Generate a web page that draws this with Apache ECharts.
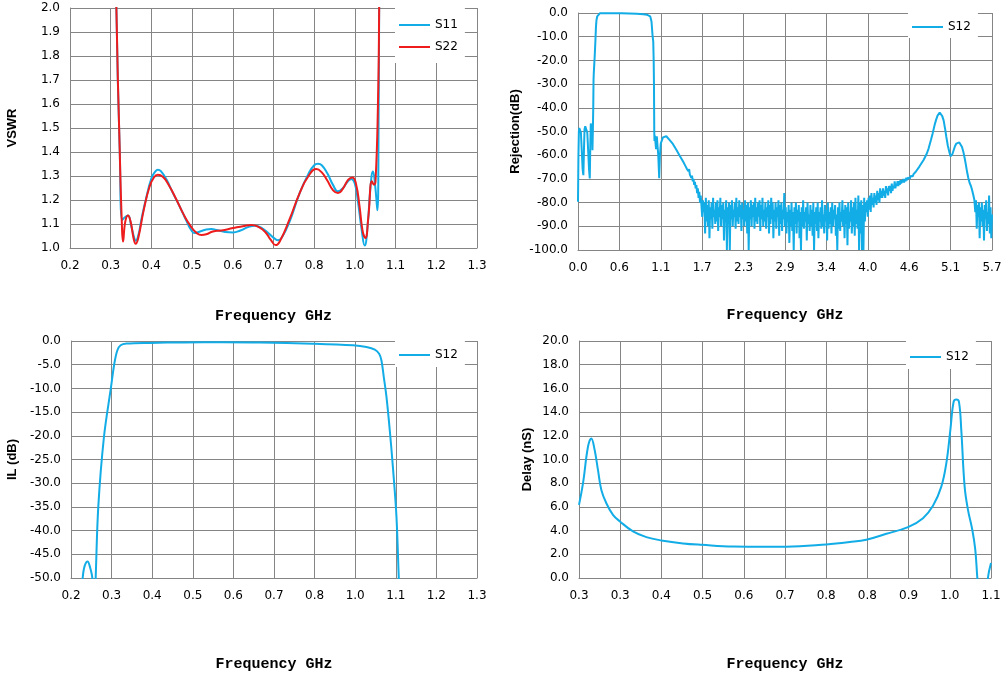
<!DOCTYPE html>
<html>
<head>
<meta charset="utf-8">
<title>Filter S-parameters</title>
<script src="https://cdn.jsdelivr.net/npm/echarts@6.0.0/dist/echarts.min.js"></script>
<style>
  html, body { margin: 0; padding: 0; background: #fff; }
  #main { width: 1008px; height: 684px; }
</style>
</head>
<body>
<div id="main"></div>
<script>
// VSWR  [GHz, ratio]
var vswrS11 = [[0.318,2.6],[0.3225,2.0],[0.3313,1.41],[0.3384,1.117],[0.345,1.128],[0.353,1.135],[0.362,1.09],[0.370,1.04],[0.3735,1.03],[0.38,1.05],[0.39,1.13],[0.40,1.2],[0.415,1.29],[0.425,1.318],[0.4324,1.326],[0.44,1.32],[0.455,1.285],[0.47,1.235],[0.4897,1.173],[0.51,1.105],[0.52,1.075],[0.5293,1.062],[0.545,1.07],[0.56,1.077],[0.5734,1.079],[0.59,1.074],[0.61,1.067],[0.6305,1.065],[0.65,1.073],[0.67,1.087],[0.6878,1.093],[0.705,1.085],[0.725,1.06],[0.74,1.04],[0.7493,1.032],[0.76,1.045],[0.78,1.11],[0.8066,1.229],[0.83,1.31],[0.845,1.345],[0.855,1.351],[0.865,1.345],[0.88,1.31],[0.895,1.262],[0.9078,1.236],[0.92,1.248],[0.935,1.28],[0.9432,1.288],[0.952,1.27],[0.96,1.2],[0.97,1.08],[0.9783,1.01],[0.986,1.09],[0.993,1.24],[1.0002,1.319],[1.006,1.26],[1.0118,1.157],[1.0153,1.6],[1.0166,2.0],[1.019,2.6]];
var vswrS22 = [[0.318,2.6],[0.3225,2.0],[0.3313,1.41],[0.337,1.1],[0.340,1.027],[0.346,1.11],[0.353,1.135],[0.36,1.11],[0.368,1.04],[0.3735,1.018],[0.38,1.04],[0.395,1.16],[0.41,1.255],[0.422,1.295],[0.432,1.305],[0.445,1.297],[0.46,1.265],[0.48,1.205],[0.50,1.14],[0.52,1.088],[0.535,1.062],[0.547,1.054],[0.56,1.057],[0.5777,1.069],[0.60,1.073],[0.6305,1.083],[0.66,1.092],[0.6791,1.096],[0.695,1.09],[0.715,1.068],[0.73,1.035],[0.7433,1.012],[0.755,1.03],[0.78,1.12],[0.8066,1.229],[0.83,1.3],[0.8507,1.329],[0.865,1.315],[0.88,1.28],[0.895,1.24],[0.9078,1.229],[0.92,1.245],[0.935,1.285],[0.9458,1.294],[0.955,1.27],[0.965,1.17],[0.973,1.07],[0.9802,1.042],[0.988,1.13],[0.9976,1.278],[1.003,1.264],[1.007,1.278],[1.0134,1.6],[1.0166,2.0],[1.019,2.6]];

// wide sweep rejection  [GHz, dB]
var rejPassband = [[0.000,-79.6],[0.006,-60],[0.012,-50],[0.018,-48.5],[0.030,-48.3],[0.040,-50.5],[0.052,-58],[0.064,-66],[0.074,-68.4],[0.082,-58],[0.090,-49],[0.100,-47.8],[0.116,-47.3],[0.128,-50.5],[0.140,-58],[0.152,-66],[0.162,-69.8],[0.170,-55],[0.176,-46.6],[0.190,-46.3],[0.196,-52],[0.199,-57.9],[0.205,-49],[0.210,-40],[0.214,-28],[0.217,-25.6],[0.226,-24.9],[0.232,-17],[0.240,-11.5],[0.247,-6],[0.254,-3.1],[0.265,-1.4],[0.277,-0.6],[0.300,-0.15],[0.324,0],[0.600,-0.1],[0.809,-0.3],[0.900,-0.5],[0.948,-0.7],[0.975,-1.0],[0.994,-1.4],[1.005,-2.2],[1.012,-3.6],[1.018,-6],[1.026,-9.4],[1.036,-12],[1.042,-20],[1.046,-30],[1.050,-50],[1.053,-54],[1.058,-51.7],[1.065,-51.5],[1.075,-57.5],[1.085,-52],[1.095,-56],[1.105,-60],[1.118,-69.7],[1.128,-60],[1.140,-55],[1.170,-52.5],[1.216,-52],[1.260,-53.5],[1.300,-55],[1.358,-57.9],[1.400,-60.2],[1.449,-62.8],[1.46,-63.5],[1.47,-62.8],[1.48,-64.6],[1.49,-63.9],[1.50,-65.8],[1.51,-65],[1.52,-66.8],[1.53,-65.9],[1.54,-68.2],[1.55,-67.5],[1.56,-69.5],[1.57,-68.6],[1.58,-71],[1.59,-70],[1.60,-72.5],[1.61,-71.3],[1.62,-74],[1.63,-72.6],[1.64,-76],[1.65,-74],[1.66,-78],[1.67,-75.5],[1.68,-80],[1.69,-77]];
var rejFloor = [
  [1.70,-77],[1.71,-86],[1.72,-79],[1.73,-84],[1.74,-80],[1.75,-93],[1.76,-78],[1.77,-88],[1.78,-81],[1.79,-90],
  [1.80,-79],[1.81,-95],[1.82,-82],[1.83,-87],[1.84,-80],[1.85,-91],[1.86,-78],[1.87,-86],[1.88,-83],[1.89,-89],
  [1.90,-80],[1.91,-88],[1.92,-79],[1.93,-92],[1.94,-82],[1.95,-86],[1.96,-78],[1.97,-90],[1.98,-81],[1.99,-87],
  [2.00,-80],[2.01,-96],[2.02,-83],[2.03,-88],[2.04,-79],[2.05,-100],[2.06,-82],[2.07,-89],[2.08,-80],[2.09,-100],
  [2.10,-81],[2.11,-87],[2.12,-79],[2.13,-90],[2.14,-83],[2.15,-86],[2.16,-80],[2.17,-91],[2.18,-78],[2.19,-88],
  [2.20,-82],[2.21,-89],[2.22,-79],[2.23,-86],[2.24,-81],[2.25,-92],[2.26,-80],[2.27,-87],[2.28,-83],[2.29,-90],
  [2.30,-79],[2.31,-88],[2.32,-81],[2.33,-93],[2.34,-80],[2.35,-100],[2.36,-82],[2.37,-87],[2.38,-79],[2.39,-90],
  [2.40,-81],[2.41,-86],[2.42,-80],[2.43,-91],[2.44,-78],[2.45,-88],[2.46,-82],[2.47,-89],[2.48,-80],[2.49,-86],
  [2.50,-79],[2.51,-92],[2.52,-81],[2.53,-87],[2.54,-78],[2.55,-90],[2.56,-83],[2.57,-88],[2.58,-80],[2.59,-91],
  [2.60,-82],[2.61,-86],[2.62,-79],[2.63,-93],[2.64,-81],[2.65,-89],[2.66,-78],[2.67,-87],[2.68,-80],[2.69,-95],
  [2.70,-83],[2.71,-88],[2.72,-80],[2.73,-91],[2.74,-82],[2.75,-86],[2.76,-79],[2.77,-94],[2.78,-81],[2.79,-89],
  [2.80,-80],[2.81,-92],[2.82,-83],[2.83,-87],[2.84,-76],[2.85,-90],[2.86,-82],[2.87,-93],[2.88,-84],[2.89,-88],
  [2.90,-81],[2.91,-97],[2.92,-83],[2.93,-90],[2.94,-80],[2.95,-92],[2.96,-84],[2.97,-100],[2.98,-82],[2.99,-89],
  [3.00,-80],[3.01,-93],[3.02,-83],[3.03,-88],[3.04,-81],[3.05,-95],[3.06,-84],[3.07,-100],[3.08,-82],[3.09,-90],
  [3.10,-79],[3.11,-91],[3.12,-84],[3.13,-88],[3.14,-82],[3.15,-96],[3.16,-80],[3.17,-89],[3.18,-85],[3.19,-92],
  [3.20,-81],[3.21,-90],[3.22,-83],[3.23,-94],[3.24,-80],[3.25,-100],[3.26,-84],[3.27,-89],[3.28,-82],[3.29,-92],
  [3.30,-80],[3.31,-95],[3.32,-84],[3.33,-88],[3.34,-82],[3.35,-91],[3.36,-79],[3.37,-90],[3.38,-85],[3.39,-93],
  [3.40,-81],[3.41,-88],[3.42,-83],[3.43,-96],[3.44,-80],[3.45,-91],[3.46,-84],[3.47,-89],[3.48,-82],[3.49,-93],
  [3.50,-80],[3.51,-90],[3.52,-83],[3.53,-87],[3.54,-81],[3.55,-94],[3.56,-85],[3.57,-100],[3.58,-82],[3.59,-91],
  [3.60,-80],[3.61,-92],[3.62,-84],[3.63,-88],[3.64,-79],[3.65,-90],[3.66,-83],[3.67,-95],[3.68,-81],[3.69,-89],
  [3.70,-82],[3.71,-98],[3.72,-80],[3.73,-91],[3.74,-84],[3.75,-88],[3.76,-79],[3.77,-93],[3.78,-82],[3.79,-90],
  [3.80,-80],[3.81,-94],[3.82,-78],[3.83,-89],[3.84,-83],[3.85,-91],[3.86,-77],[3.87,-100],[3.88,-80],[3.89,-93],
  [3.90,-79],[3.91,-100],[3.92,-81],[3.93,-100],[3.94,-78],[3.95,-88],[3.96,-80]];
var rejRise = [
  [3.97,-84],[3.98,-79],[3.99,-86],
  [4.00,-78],[4.01,-83],[4.02,-77],[4.03,-84],[4.04,-76],[4.05,-81],[4.06,-78],[4.07,-82],[4.08,-76],[4.09,-80],
  [4.10,-77],[4.11,-81],[4.12,-75],[4.13,-79],[4.14,-76],[4.15,-80],[4.16,-74],[4.17,-78],[4.18,-75],[4.19,-78],
  [4.20,-74],[4.21,-77],[4.22,-75],[4.23,-78],[4.24,-73],[4.25,-76],[4.26,-74],[4.27,-77],[4.28,-73],[4.29,-75],
  [4.30,-73],[4.31,-76],[4.32,-72],[4.33,-75],[4.34,-73],[4.35,-74],[4.36,-71],[4.37,-74],[4.38,-72],[4.39,-73],
  [4.40,-71],[4.41,-73],[4.42,-71],[4.43,-72.5],[4.44,-70.5],[4.45,-72],[4.46,-70.5],[4.47,-71.5],[4.48,-70],[4.49,-71.5],
  [4.50,-70],[4.51,-71],[4.52,-69.5],[4.53,-70.5],[4.54,-69.5],[4.55,-70],[4.56,-69],[4.57,-69.8],[4.58,-68.8],[4.59,-69.3],
  [4.60,-68.6],[4.61,-68.9],[4.62,-68],[4.63,-68.2],[4.64,-67.4],[4.65,-67]];
var rejSpurs = [[4.666,-66.2],[4.70,-64.8],[4.758,-62],[4.80,-59.5],[4.827,-57.2],[4.86,-53.5],[4.882,-50.9],[4.91,-47.3],[4.928,-45.3],[4.950,-43.3],[4.965,-42.5],[4.980,-42.0],[4.997,-42.2],[5.015,-43.5],[5.034,-45.3],[5.055,-49],[5.071,-52.3],[5.092,-56],[5.112,-58.5],[5.128,-60.5],[5.140,-60.9],[5.155,-59.5],[5.172,-57.9],[5.19,-56.2],[5.209,-55.1],[5.23,-54.6],[5.25,-54.6],[5.27,-55.3],[5.287,-56.5],[5.305,-58.5],[5.324,-61.3],[5.340,-64],[5.356,-66.9],[5.373,-69.5],[5.393,-71.8],[5.41,-73],[5.425,-74.6],[5.44,-76.5],[5.457,-78.8]];
var rejTail = [[5.47,-84],[5.48,-79],[5.49,-91],[5.50,-81],[5.51,-86],[5.52,-80],[5.53,-95],[5.54,-82],[5.55,-88],[5.56,-80],[5.57,-90],[5.58,-83],[5.59,-96],[5.60,-81],[5.61,-87],[5.62,-79],[5.63,-92],[5.64,-84],[5.65,-89],[5.66,-77],[5.67,-93],[5.68,-82],[5.69,-95],[5.70,-85]];

// insertion loss  [GHz, dB]
var ilS12 = [[0.226,-56],[0.2309,-50],[0.236,-47.5],[0.2441,-46.5],[0.250,-47.6],[0.2564,-50],[0.2605,-60],[0.2653,-50],[0.2723,-34.9],[0.2873,-20.2],[0.3058,-9.8],[0.3147,-4.8],[0.3226,-2.0],[0.3314,-0.9],[0.3473,-0.55],[0.409,-0.4],[0.5,-0.3],[0.6,-0.25],[0.7,-0.3],[0.8412,-0.56],[0.947,-0.91],[0.9823,-1.26],[1.0044,-1.8],[1.0159,-2.7],[1.022,-4.1],[1.0282,-7.6],[1.0353,-11.8],[1.044,-18.8],[1.0529,-27.2],[1.0617,-37],[1.0679,-50],[1.072,-58]];

// group delay  [GHz, ns]
var delayS12 = [[0.25,6.17],[0.2583,8.0],[0.2686,11.1],[0.2754,11.78],[0.2823,10.8],[0.2892,9.1],[0.2961,7.43],[0.3064,6.31],[0.3201,5.33],[0.3346,4.77],[0.3614,3.93],[0.3889,3.45],[0.4199,3.17],[0.4646,2.92],[0.5038,2.80],[0.5677,2.66],[0.6365,2.64],[0.6777,2.64],[0.7603,2.83],[0.8084,3.03],[0.8428,3.23],[0.8841,3.73],[0.9288,4.29],[0.9597,5.05],[0.9803,6.09],[0.9975,7.71],[1.0078,9.68],[1.0161,12.48],[1.0229,14.87],[1.0284,15.06],[1.0339,14.87],[1.0387,12.48],[1.0456,7.71],[1.0525,5.75],[1.0614,4.07],[1.0676,2.38],[1.0718,0],[1.078,-3],[1.088,-3],[1.0936,0],[1.1,1.26]];

var blue = '#12ACE6';
var red = '#EE1C1C';
var gridColor = '#858585';

function fixed1(v) { return v.toFixed(1); }

function xAxis(gi, min, max, step, gap) {
    return {
        type: 'value', gridIndex: gi, min: min, max: max, interval: step,
        name: 'Frequency GHz', nameLocation: 'middle', nameGap: gap, nameMoveOverlap: false,
        nameTextStyle: { fontFamily: 'Liberation Mono', fontWeight: 'bold', fontSize: 15, color: '#000' },
        axisLine: { show: true, onZero: false, lineStyle: { color: gridColor, width: 1 } },
        axisTick: { show: false },
        axisLabel: { margin: 12, color: '#000', fontFamily: 'DejaVu Sans', fontSize: 12, formatter: fixed1 },
        splitLine: { show: true, lineStyle: { color: gridColor, width: 1 } }
    };
}

function yAxis(gi, name, min, max, step, gap) {
    return {
        type: 'value', gridIndex: gi, min: min, max: max, interval: step,
        name: name, nameLocation: 'middle', nameGap: gap, nameMoveOverlap: false,
        nameTextStyle: { fontFamily: 'Liberation Sans', fontWeight: 'bold', fontSize: 13, color: '#000' },
        axisLine: { show: true, onZero: false, lineStyle: { color: gridColor, width: 1 } },
        axisTick: { show: false },
        axisLabel: { margin: 10, color: '#000', fontFamily: 'DejaVu Sans', fontSize: 12, formatter: fixed1 },
        splitLine: { show: true, lineStyle: { color: gridColor, width: 1 } }
    };
}

function line(name, data, idx, color, smooth) {
    return {
        name: name, type: 'line', xAxisIndex: idx, yAxisIndex: idx, data: data,
        symbol: 'none', showSymbol: false, smooth: smooth, clip: true,
        lineStyle: { color: color, width: 2 }, itemStyle: { color: color }
    };
}

function legend(names, left, top, pad) {
    return {
        data: names, left: left, top: top, orient: 'vertical', selectedMode: false,
        icon: 'rect', itemWidth: 31, itemHeight: 2, itemGap: 10, padding: pad,
        backgroundColor: '#fff',
        textStyle: { fontFamily: 'DejaVu Sans', fontSize: 12, color: '#000' }
    };
}

var myChart = echarts.init(document.getElementById('main'));
myChart.setOption({
    animation: false,
    backgroundColor: '#fff',
    grid: [
        { left: 70, top: 8, width: 407, height: 240, outerBoundsMode: 'none' },
        { left: 578, top: 13, width: 414, height: 237, outerBoundsMode: 'none' },
        { left: 71, top: 341, width: 406, height: 237, outerBoundsMode: 'none' },
        { left: 579, top: 341, width: 412, height: 237, outerBoundsMode: 'none' }
    ],
    legend: [
        legend(['S11', 'S22'], 395, 8, [11, 7, 10, 4]),
        legend(['S12'], 908, 13, [8, 7, 5, 4]),
        legend(['S12'], 395, 341, [8, 7, 6, 4]),
        legend(['S12'], 906, 341, [10, 7, 6, 4])
    ],
    xAxis: [
        xAxis(0, 0.2, 1.275, 0.1075, 61),
        xAxis(1, 0, 5.7, 0.57, 58),
        xAxis(2, 0.2, 1.275, 0.1075, 79),
        xAxis(3, 0.25, 1.1, 0.085, 79)
    ],
    yAxis: [
        yAxis(0, 'VSWR', 1, 2, 0.1, 51),
        yAxis(1, 'Rejection(dB)', -100, 0, 10, 56),
        yAxis(2, 'IL (dB)', -50, 0, 5, 52),
        yAxis(3, 'Delay (nS)', 0, 20, 2, 45)
    ],
    series: [
        line('S11', vswrS11, 0, blue, 0.5),
        line('S22', vswrS22, 0, red, 0.5),
        line('S12', rejPassband.concat(rejFloor, rejRise, rejSpurs, rejTail), 1, blue, false),
        line('S12', ilS12, 2, blue, 0.35),
        line('S12', delayS12, 3, blue, 0.4)
    ]
});
</script>
</body>
</html>
